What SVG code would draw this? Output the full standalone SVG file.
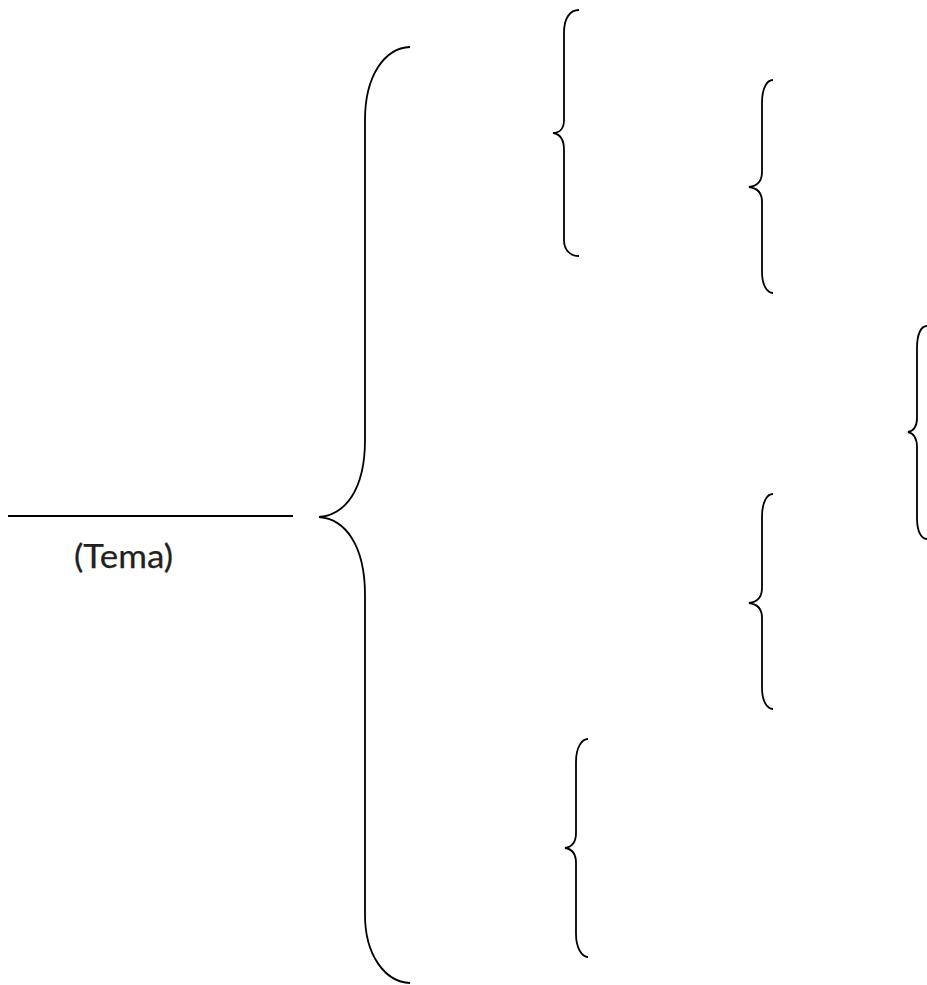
<svg xmlns="http://www.w3.org/2000/svg" width="927" height="985" viewBox="0 0 927 985">
<style>
.br{fill:none;stroke:#000;stroke-width:1.8}
.ln{stroke:#000;stroke-width:1.8}
.t{font-family:Lato,"Open Sans",sans-serif;font-size:33px;fill:#231f20;stroke:#231f20;stroke-width:0.25}
</style>
<rect width="927" height="985" fill="#fff"/>
<g id="tema">
<line class="ln" x1="8" y1="516" x2="293" y2="516"/>
<text class="t" x="74" y="568" textLength="99" lengthAdjust="spacingAndGlyphs">(Tema)</text>
</g>
<g id="braces">
<path id="b-main" class="br" d="M410,47 C385,48 365,75 365,120 L365,440 C365,490 345,515 319,517 C345,519 365,545 365,595 L365,915 C365,955 385,982 410,983"/>
<path id="b1" class="br" d="M579,10 C570,10 564,18 564,33 L564,120 C564,128 560,133 553,133 C560,134 564,139 564,150 L564,240 C564,250 570,256 579,256"/>
<path id="b2" class="br" d="M773,80 C767,80 762,88 762,103 L762,172 C762,181 757,186 749,187 C757,188 762,193 762,202 L762,272 C762,285 767,293 773,293"/>
<path id="b3" class="br" d="M927,326 C921,326 917,334 917,348 L917,418 C917,427 913,431 908,432 C913,433 917,438 917,447 L917,518 C917,531 921,539 927,539"/>
<path id="b4" class="br" d="M773,494 C767,494 762,502 762,517 L762,588 C762,597 757,602 749,603 C757,604 762,609 762,618 L762,688 C762,701 767,709 773,709"/>
<path id="b5" class="br" d="M588,739 C582,739 576,747 576,762 L576,833 C576,842 572,847 565,848 C572,849 576,854 576,863 L576,934 C576,948 582,957 588,957"/>
</g>
</svg>
